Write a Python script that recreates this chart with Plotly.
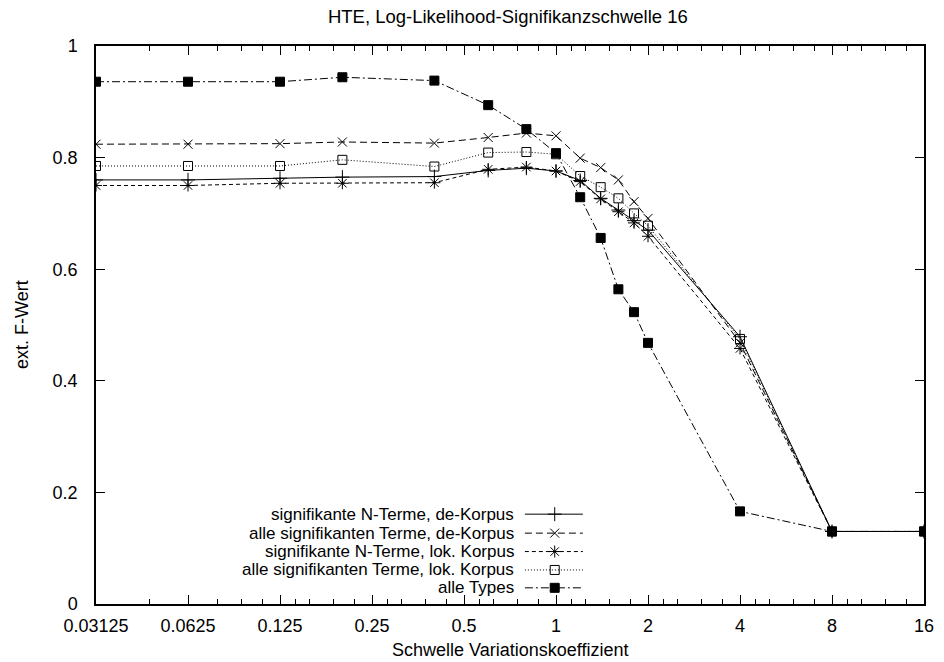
import math
import plotly.graph_objects as go

# Threshold of the coefficient of variation (log2 axis)
schwelle = [0.03125, 0.0625, 0.125, 0.2, 0.4, 0.6, 0.8, 1.0, 1.2, 1.4, 1.6, 1.8, 2.0, 4.0, 8.0, 16.0]

# extended F value per series
n_terme_de = [0.760, 0.760, 0.763, 0.765, 0.766, 0.777, 0.781, 0.776, 0.759, 0.727, 0.706, 0.687, 0.670, 0.479, 0.130, 0.130]
alle_terme_de = [0.824, 0.824, 0.825, 0.828, 0.826, 0.836, 0.844, 0.839, 0.799, 0.782, 0.760, 0.721, 0.691, 0.468, 0.130, 0.130]
n_terme_lok = [0.750, 0.750, 0.754, 0.754, 0.755, 0.779, 0.783, 0.776, 0.757, 0.726, 0.703, 0.683, 0.659, 0.458, 0.130, 0.130]
alle_terme_lok = [0.785, 0.785, 0.785, 0.796, 0.784, 0.809, 0.810, 0.806, 0.767, 0.747, 0.727, 0.700, 0.678, 0.475, 0.130, 0.130]
alle_types = [0.936, 0.936, 0.936, 0.944, 0.938, 0.894, 0.851, 0.808, 0.729, 0.656, 0.564, 0.523, 0.468, 0.166, 0.130, 0.130]

x_ticks = [0.03125, 0.0625, 0.125, 0.25, 0.5, 1, 2, 4, 8, 16]
x_ticktext = ["0.03125", "0.0625", "0.125", "0.25", "0.5", "1", "2", "4", "8", "16"]
y_ticks = [0, 0.2, 0.4, 0.6, 0.8, 1.0]
y_ticktext = ["0", "0.2", "0.4", "0.6", "0.8", "1"]

series = [
    ("signifikante N-Terme, de-Korpus", n_terme_de, "solid", "cross-thin-open", 10),
    ("alle signifikanten Terme, de-Korpus", alle_terme_de, "7px,4px", "x-thin-open", 9),
    ("signifikante N-Terme, lok. Korpus", n_terme_lok, "4px,3px", "asterisk-open", 10),
    ("alle signifikanten Terme, lok. Korpus", alle_terme_lok, "1px,2px", "square-open", 9),
    ("alle Types", alle_types, "8px,3px,2px,3px", "square", 9),
]

FONT = "Liberation Sans, Arial, Helvetica, sans-serif"
FS = 18
FS_KEY = 17

# gnuplot-style minor ticks between powers of two
minor_vals = [0.046875]
for base in x_ticks[1:-1]:
    factors = [1.25, 1.5, 1.75] if base == 0.0625 else [1.125, 1.25, 1.5, 1.75]
    minor_vals += [base * f for f in factors]

fig = go.Figure()

for name, vals, dash, sym, size in series:
    fig.add_trace(go.Scatter(
        x=schwelle, y=vals, mode="lines+markers", name=name,
        line=dict(color="black", width=1, dash=dash),
        marker=dict(symbol=sym, size=size, color="black",
                    line=dict(color="black", width=1)),
        showlegend=False,
    ))

# legend keys drawn on a hidden overlay axis (fractions of plot width)
key_x0, key_xm, key_x1 = 0.518, 0.554, 0.588
key_text_x = 0.507
key_rows = [0.161, 0.127, 0.094, 0.061, 0.029]
for (name, vals, dash, sym, size), ky in zip(series, key_rows):
    fig.add_trace(go.Scatter(
        x=[key_x0, key_x1], y=[ky, ky], mode="lines",
        line=dict(color="black", width=1, dash=dash),
        xaxis="x2", yaxis="y", showlegend=False, hoverinfo="skip",
    ))
    fig.add_trace(go.Scatter(
        x=[key_xm], y=[ky], mode="markers",
        marker=dict(symbol=sym, size=size, color="black",
                    line=dict(color="black", width=1)),
        xaxis="x2", yaxis="y", showlegend=False, hoverinfo="skip",
    ))
    fig.add_annotation(
        x=key_text_x, y=ky, xref="paper", yref="y", text=name,
        showarrow=False, xanchor="right", yanchor="middle",
        font=dict(family=FONT, size=FS_KEY, color="black"),
    )

# axis titles
fig.add_annotation(
    x=0.5, y=0, xref="paper", yref="paper", yshift=-46,
    text="Schwelle Variationskoeffizient", showarrow=False,
    xanchor="center", yanchor="middle",
    font=dict(family=FONT, size=FS, color="black"),
)
fig.add_annotation(
    x=0, y=0.5, xref="paper", yref="paper", xshift=-74,
    text="ext. F-Wert", textangle=-90, showarrow=False,
    xanchor="center", yanchor="middle",
    font=dict(family=FONT, size=FS, color="black"),
)

fig.update_layout(
    width=944, height=662,
    margin=dict(l=96, r=20, t=46, b=58),
    paper_bgcolor="white", plot_bgcolor="white",
    font=dict(family=FONT, size=FS, color="black"),
    title=dict(text="HTE, Log-Likelihood-Signifikanzschwelle 16",
               x=0.538, xanchor="center", y=0.975, yanchor="middle",
               font=dict(family=FONT, size=18.5, color="black")),
    xaxis=dict(
        type="log", range=[math.log10(0.03125), math.log10(16)],
        tickvals=x_ticks, ticktext=x_ticktext, automargin=False,
        ticks="inside", ticklen=9, tickwidth=1, tickcolor="black",
        ticklabelstandoff=5,
        showline=True, linecolor="black", linewidth=1.5, mirror="ticks",
        showgrid=False, zeroline=False,
        minor=dict(tickvals=minor_vals, ticks="inside", ticklen=5,
                   tickwidth=1, tickcolor="black", showgrid=False),
        tickfont=dict(family=FONT, size=FS),
    ),
    xaxis2=dict(overlaying="x", range=[0, 1], visible=False, showgrid=False),
    yaxis=dict(
        range=[0, 1], tickvals=y_ticks, ticktext=y_ticktext, automargin=False,
        ticks="inside", ticklen=9, tickwidth=1, tickcolor="black",
        ticklabelstandoff=13,
        showline=True, linecolor="black", linewidth=1.5, mirror="ticks",
        showgrid=False, zeroline=False,
        tickfont=dict(family=FONT, size=FS),
    ),
)

fig.write_html("out.html")
